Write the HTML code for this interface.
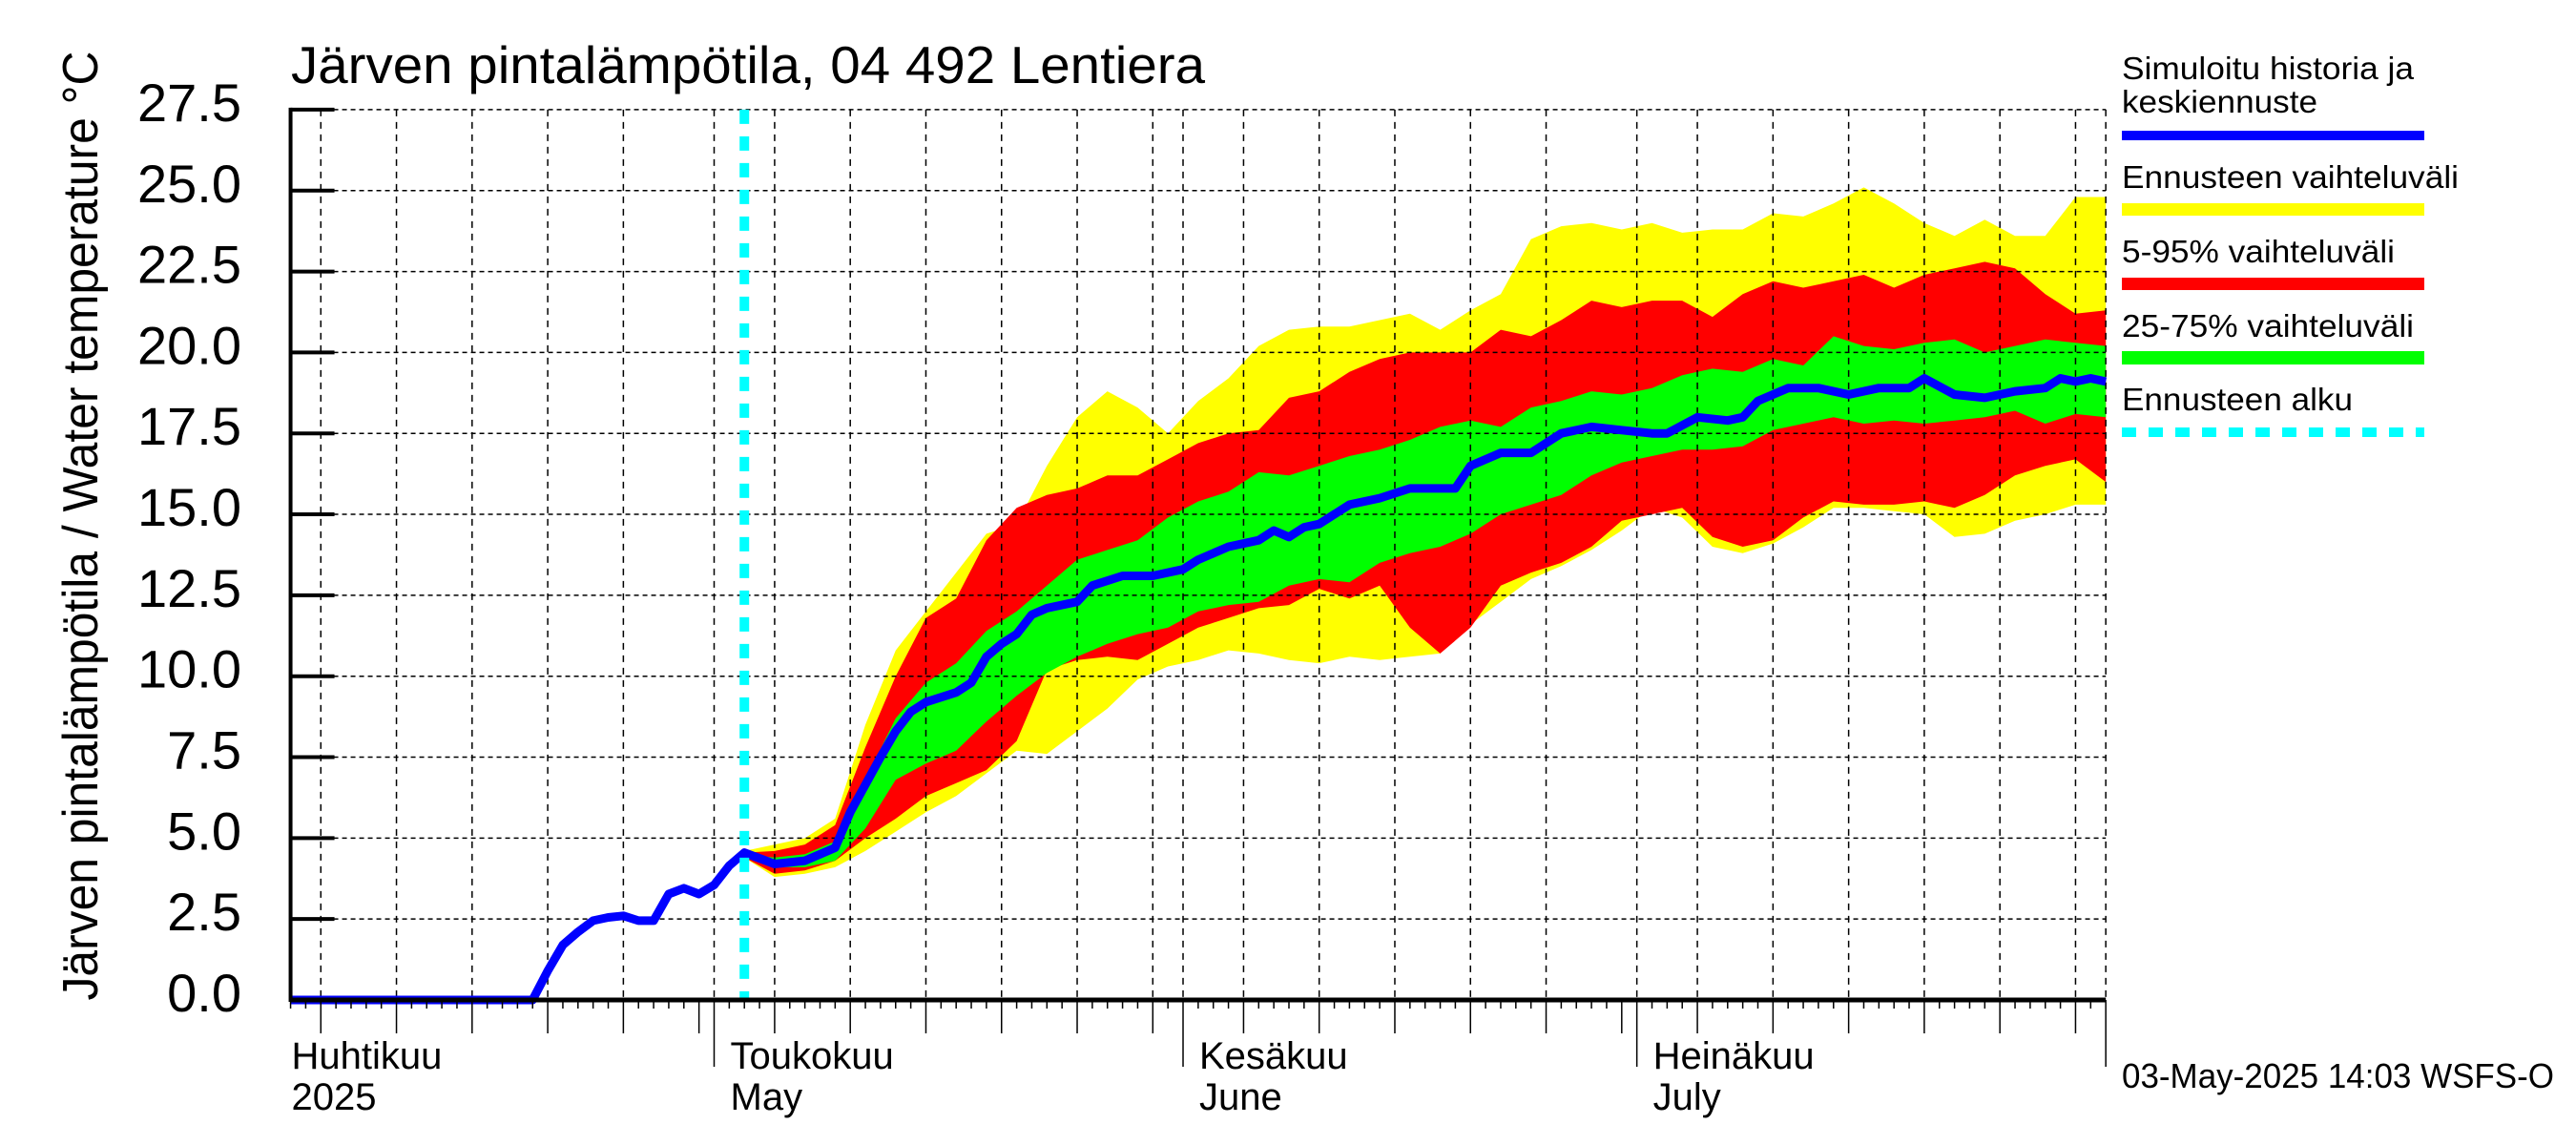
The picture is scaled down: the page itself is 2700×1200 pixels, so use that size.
<!DOCTYPE html>
<html><head><meta charset="utf-8"><style>
html,body{margin:0;padding:0;background:#fff;}
svg{display:block;font-family:"Liberation Sans",Arial,sans-serif;}
</style></head><body>
<svg id="chart" width="2700" height="1200" viewBox="0 0 2700 1200" xmlns="http://www.w3.org/2000/svg">
<g id="bands"></g>
<g id="grid"></g>
<g id="lines"></g>
<g id="axes"></g>
<text x="305" y="87" font-size="55" textLength="958" lengthAdjust="spacingAndGlyphs">Järven pintalämpötila, 04 492 Lentiera</text>
<text transform="translate(102,551) rotate(-90)" text-anchor="middle" font-size="52" textLength="995" lengthAdjust="spacingAndGlyphs">Järven pintalämpötila / Water temperature °C</text>
<text x="2224" y="1140" font-size="36" textLength="453" lengthAdjust="spacingAndGlyphs">03-May-2025 14:03 WSFS-O</text>
<g font-size="33">
<text x="2224" y="83" textLength="306" lengthAdjust="spacingAndGlyphs">Simuloitu historia ja</text>
<text x="2224" y="118" textLength="205" lengthAdjust="spacingAndGlyphs">keskiennuste</text>
<rect x="2224" y="137" width="317" height="10" fill="#0000ff"/>
<text x="2224" y="197" textLength="353" lengthAdjust="spacingAndGlyphs">Ennusteen vaihteluväli</text>
<rect x="2224" y="213" width="317" height="13" fill="#ffff00"/>
<text x="2224" y="275" textLength="286" lengthAdjust="spacingAndGlyphs">5-95% vaihteluväli</text>
<rect x="2224" y="291" width="317" height="13" fill="#ff0000"/>
<text x="2224" y="353" textLength="306" lengthAdjust="spacingAndGlyphs">25-75% vaihteluväli</text>
<rect x="2224" y="368" width="317" height="14" fill="#00ff00"/>
<text x="2224" y="430" textLength="242" lengthAdjust="spacingAndGlyphs">Ennusteen alku</text>
<line x1="2224" y1="453" x2="2541" y2="453" stroke="#00ffff" stroke-width="10" stroke-dasharray="15,13"/>
</g>
</svg>
<script>
// days counted from 1 April 2025 (day 0)
const histDays = [2,18,19,20,21,22,23,24,25,26,27,28,29,30,31,32];
const histVals = [0,0,0.9,1.7,2.1,2.45,2.55,2.6,2.45,2.45,3.27,3.45,3.27,3.55,4.15,4.55];
const medDays = [32,34,36,38,39,41,42,43,44,46,47,48,49,50,51,52,54,55,57,59,61,62,64,66,67,68,69,70,72,74,76,78,79,80,82,84,86,88,90,92,93,95,97,98,99,101,103,105,107,109,110,112,114,116,118,119,120,121,122];
const medVals = [4.55,4.2,4.3,4.7,5.8,7.5,8.3,8.9,9.2,9.5,9.8,10.6,11.0,11.3,11.9,12.1,12.3,12.8,13.1,13.1,13.3,13.6,14.0,14.2,14.5,14.3,14.6,14.7,15.3,15.5,15.8,15.8,15.8,16.5,16.9,16.9,17.5,17.7,17.6,17.5,17.5,18.0,17.9,18.0,18.5,18.9,18.9,18.7,18.9,18.9,19.2,18.7,18.6,18.8,18.9,19.2,19.1,19.2,19.1];
const bandDays = [32,34,36,38,40,42,44,46,48,50,52,54,56,58,60,62,64,66,68,70,72,74,76,78,80,82,84,86,88,90,92,94,96,98,100,102,104,106,108,110,112,114,116,118,120,122];
const maxVals = [4.6,4.8,5.0,5.6,8.5,10.8,12.0,13.2,14.4,14.7,16.5,18.0,18.8,18.3,17.5,18.5,19.2,20.2,20.7,20.8,20.8,21.0,21.2,20.7,21.3,21.8,23.5,23.9,24.0,23.8,24.0,23.7,23.8,23.8,24.3,24.2,24.6,25.1,24.6,24.0,23.6,24.1,23.6,23.6,24.8,24.8];
const p95Vals = [4.55,4.6,4.8,5.4,7.8,10.0,11.8,12.4,14.2,15.2,15.6,15.8,16.2,16.2,16.7,17.2,17.5,17.6,18.6,18.8,19.4,19.8,20.0,20.0,20.0,20.7,20.5,21.0,21.6,21.4,21.6,21.6,21.1,21.8,22.2,22.0,22.2,22.4,22.0,22.4,22.6,22.8,22.6,21.8,21.2,21.3];
const p75Vals = [4.5,4.4,4.5,4.9,6.8,8.7,9.8,10.4,11.4,12.0,12.8,13.6,13.9,14.2,14.9,15.4,15.7,16.3,16.2,16.5,16.8,17.0,17.3,17.7,17.9,17.7,18.3,18.5,18.8,18.7,18.9,19.3,19.5,19.4,19.8,19.6,20.5,20.2,20.1,20.3,20.4,20.0,20.2,20.4,20.3,20.2];
const p25Vals = [4.4,4.1,4.1,4.3,5.3,6.8,7.3,7.7,8.6,9.4,10.1,10.6,11.0,11.3,11.5,12.0,12.2,12.3,12.8,13.0,12.9,13.5,13.8,14.0,14.4,15.0,15.3,15.6,16.2,16.6,16.8,17.0,17.0,17.1,17.6,17.8,18.0,17.8,17.9,17.8,17.9,18.0,18.2,17.8,18.1,18.0];
const p5Vals = [4.4,3.9,4.0,4.3,5.0,5.6,6.3,6.7,7.1,8.0,10.2,10.5,10.6,10.5,11.0,11.5,11.8,12.1,12.2,12.7,12.4,12.8,11.5,10.7,11.5,12.8,13.2,13.5,14.0,14.8,15.0,15.2,14.3,14.0,14.2,14.9,15.4,15.3,15.3,15.4,15.2,15.6,16.2,16.5,16.7,16.0];
const minVals = [4.4,3.8,3.9,4.1,4.6,5.2,5.8,6.3,7.0,7.7,7.6,8.3,9.0,9.9,10.3,10.5,10.8,10.7,10.5,10.4,10.6,10.5,10.6,10.7,11.6,12.3,13.0,13.4,13.9,14.5,15.2,14.9,14.0,13.8,14.1,14.6,15.2,15.2,15.1,15.0,14.3,14.4,14.8,15.0,15.3,15.3];
const yTicks = [0,2.5,5,7.5,10,12.5,15,17.5,20,22.5,25,27.5];
const yTickLabels = ["0.0","2.5","5.0","7.5","10.0","12.5","15.0","17.5","20.0","22.5","25.0","27.5"];
const monthStarts = [0,30,61,91,122];
const monthFi = ["Huhtikuu","Toukokuu","Kesäkuu","Heinäkuu"];
const monthEn = ["2025","May","June","July"];
const forecastStartDay = 32;
const xStartDay = 2, xEndDay = 122;

const NS = "http://www.w3.org/2000/svg";
const X = d => 748.5 + (d - 30) * 15.855;
const Y = v => 1048 - v * 33.93;
function mk(tag, attrs, parent) {
  const e = document.createElementNS(NS, tag);
  for (const k in attrs) e.setAttribute(k, attrs[k]);
  parent.appendChild(e);
  return e;
}
const bands = document.getElementById('bands');
const grid = document.getElementById('grid');
const lines = document.getElementById('lines');
const axes = document.getElementById('axes');
const L = X(xStartDay), R = X(xEndDay), B = Y(0), T = Y(27.5);

function band(top, bot, color, name) {
  let pts = [];
  for (let i = 0; i < bandDays.length; i++) pts.push(X(bandDays[i]).toFixed(1) + ',' + Y(top[i]).toFixed(1));
  for (let i = bandDays.length - 1; i >= 0; i--) pts.push(X(bandDays[i]).toFixed(1) + ',' + Y(bot[i]).toFixed(1));
  const p = mk('polygon', {points: pts.join(' '), fill: color}, bands);
  
  
}
band(maxVals, minVals, '#ffff00', 'band-min-max');
band(p95Vals, p5Vals, '#ff0000', 'band-5-95');
band(p75Vals, p25Vals, '#00ff00', 'band-25-75');

// horizontal grid
for (let i = 1; i < yTicks.length; i++) {
  const g = mk('line', {x1: L, x2: R, y1: Y(yTicks[i]), y2: Y(yTicks[i]), stroke: '#000', 'stroke-width': 1.5, 'stroke-dasharray': '5,4'}, grid);
  
  
}
// vertical grid: every 5th day of month + month starts
for (let m = 0; m < 4; m++) {
  const s = monthStarts[m], len = monthStarts[m + 1] - s;
  const ds = [s];
  for (let k = 5; k < len + 1; k += 5) if (k < len) ds.push(s + k - 1 + 0);
  for (const dd of ds) {
    const d = (dd === s) ? s : dd;
    if (d < xStartDay || d > xEndDay) continue;
    const g = mk('line', {x1: X(d), x2: X(d), y1: T, y2: B, stroke: '#000', 'stroke-width': 1.5, 'stroke-dasharray': '7,6'}, grid);
    
    
  }
}
{
  const g = mk('line', {x1: R, x2: R, y1: T, y2: B, stroke: '#000', 'stroke-width': 1.5, 'stroke-dasharray': '7,6'}, grid);
  
  
}

// blue line
const pts = [];
for (let i = 0; i < histDays.length; i++) pts.push(X(histDays[i]).toFixed(1) + ',' + Y(histVals[i]).toFixed(1));
for (let i = 1; i < medDays.length; i++) pts.push(X(medDays[i]).toFixed(1) + ',' + Y(medVals[i]).toFixed(1));
const bl = mk('polyline', {points: pts.join(' '), fill: 'none', stroke: '#0000ff', 'stroke-width': 9, 'stroke-linejoin': 'round'}, lines);


const cy = mk('line', {x1: X(forecastStartDay), x2: X(forecastStartDay), y1: T, y2: B, stroke: '#00ffff', 'stroke-width': 10, 'stroke-dasharray': '15,13'}, lines);



// axes
const ya = mk('line', {x1: L, x2: L, y1: T - 2, y2: B + 2, stroke: '#000', 'stroke-width': 4}, axes);


const xa = mk('line', {x1: L, x2: R, y1: B, y2: B, stroke: '#000', 'stroke-width': 5}, axes);


for (let i = 0; i < yTicks.length; i++) {
  const t = mk('line', {x1: L, x2: L + 46, y1: Y(yTicks[i]), y2: Y(yTicks[i]), stroke: '#000', 'stroke-width': 4}, axes);
  
  
  const tx = mk('text', {x: 253, y: Y(yTicks[i]) + 12, 'text-anchor': 'end', 'font-size': 56}, axes);
  tx.textContent = yTickLabels[i];
  
  
}
// x ticks: daily minor, 5-day medium, month long
for (let m = 0; m < 4; m++) {
  const s = monthStarts[m], len = monthStarts[m + 1] - s;
  for (let k = 0; k < len; k++) {
    const d = s + k;
    if (d < xStartDay || d > xEndDay) continue;
    let l = 9;
    if (k === 0) l = 70; else if ((k + 1) % 5 === 0 && k + 1 < len + 1) l = 35;
    const t = mk('line', {x1: X(d), x2: X(d), y1: B, y2: B + l, stroke: '#000', 'stroke-width': 1.5}, axes);
    
    
  }
}
{
  const t = mk('line', {x1: R, x2: R, y1: B, y2: B + 70, stroke: '#000', 'stroke-width': 1.5}, axes);
  
  
}
for (let m = 0; m < 4; m++) {
  const x = m === 0 ? L + 1 : X(monthStarts[m]) + 17;
  const a = mk('text', {x: x, y: 1120, 'font-size': 40}, axes);
  a.textContent = monthFi[m];
  
  
  const b = mk('text', {x: x, y: 1163, 'font-size': 40}, axes);
  b.textContent = monthEn[m];
  
  
}
</script>
</body></html>
